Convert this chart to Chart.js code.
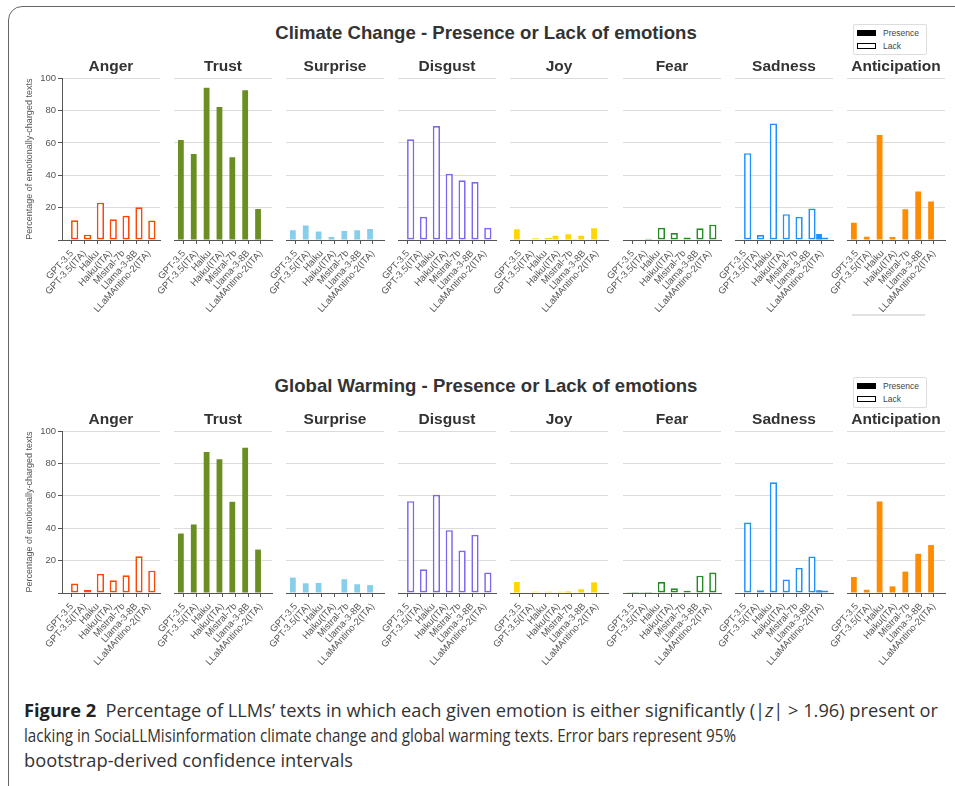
<!DOCTYPE html>
<html>
<head>
<meta charset="utf-8">
<script src="https://cdn.jsdelivr.net/npm/chart.js@4.4.0/dist/chart.umd.min.js"></script>
<style>
  body { margin: 0; width: 955px; height: 786px; overflow: hidden; position: relative; background: #fff; font-family: "Liberation Sans", Arial, sans-serif; }
  .frame { position: absolute; left: 8px; top: 6px; width: 1000px; height: 795px; border: 1px solid #666; border-radius: 14px; }
  canvas { position: absolute; }
  .main-title { position: absolute; left: 0; width: 972px; text-align: center; font-weight: bold; font-size: 18.6px; color: #333; line-height: 20px; }
  .legend { position: absolute; left: 853px; width: 72px; height: 29px; border: 1px solid #ddd; border-radius: 2px; background: #fff; font-size: 8.5px; color: #444; }
  .legend .sw { position: absolute; left: 3px; width: 19px; height: 6px; box-sizing: border-box; }
  .legend .lb { position: absolute; left: 29px; line-height: 10px; }
  .cap { position: absolute; left: 24px; font-family: "Open Sans", "Noto Sans", sans-serif; font-size: 18px; color: #333; white-space: nowrap; transform-origin: 0 50%; line-height: 24px; }
  .cap b { color: #222; }
</style>
</head>
<body>
<div class="frame"></div>

<div class="main-title" style="top:23px">Climate Change - Presence or Lack of emotions</div>
<div class="main-title" style="top:376px">Global Warming - Presence or Lack of emotions</div>

<div class="legend" style="top:24px">
  <div class="sw" style="top:5px;background:#000"></div><div class="lb" style="top:3px">Presence</div>
  <div class="sw" style="top:18px;border:1px solid #000"></div><div class="lb" style="top:16px">Lack</div>
</div>
<div class="legend" style="top:377px">
  <div class="sw" style="top:5px;background:#000"></div><div class="lb" style="top:3px">Presence</div>
  <div class="sw" style="top:18px;border:1px solid #000"></div><div class="lb" style="top:16px">Lack</div>
</div>
<div style="position:absolute;left:852px;top:314px;width:73px;height:2px;background:#e2e2e2"></div>

<div class="cap" data-w="914" style="top:698px"><b>Figure 2</b>&nbsp; Percentage of LLMs’ texts in which each given emotion is either significantly (|<i>z</i>| &gt; 1.96) present or</div>
<div class="cap" data-w="712" style="top:723px">lacking in SociaLLMisinformation climate change and global warming texts. Error bars represent 95%</div>
<div class="cap" data-w="329" style="top:748px">bootstrap-derived confidence intervals</div>

<script>
const models = ["GPT-3.5", "GPT-3.5(ITA)", "Haiku", "Haiku(ITA)", "Mistral-7b", "Llama-3-8B", "LLaMAntino-2(ITA)"];
const emotions = ["Anger", "Trust", "Surprise", "Disgust", "Joy", "Fear", "Sadness", "Anticipation"];
const yTicks = [0, 20, 40, 60, 80, 100];

// Climate change: one row per emotion, one value per model (percent)
const climatePresence = [
  [0, 0, 0, 0, 0, 0, 0],
  [61.9, 53.2, 94.2, 82.3, 51.1, 92.6, 19.2],
  [6.0, 8.9, 5.2, 1.9, 5.6, 6.0, 6.8],
  [0, 0, 0, 0, 0, 0, 0],
  [6.6, 0, 0, 2.6, 3.5, 2.7, 7.3],
  [0, 0, 0, 0, 0, 0, 0],
  [0, 0, 0, 0, 0, 0, 3.7],
  [10.7, 2.0, 65.0, 1.8, 19.0, 30.0, 23.8]
];
const climateLack = [
  [12.2, 3.3, 23.1, 12.8, 15.0, 20.2, 12.0],
  [0, 0, 0, 0, 0, 0, 0.4],
  [0, 0, 0, 0, 0, 0.4, 0],
  [62.3, 14.4, 70.5, 41.0, 36.9, 35.9, 7.6],
  [0.4, 1.1, 1.4, 0, 0.8, 0, 0.4],
  [0.3, 0.8, 7.6, 4.3, 1.6, 7.2, 9.5],
  [53.7, 3.1, 72.1, 16.0, 14.3, 19.5, 1.6],
  [0, 0, 0, 0, 0, 0, 0.3]
];

// Global warming
const warmingPresence = [
  [0, 0, 0, 0, 0, 0, 0],
  [36.7, 42.3, 87.0, 82.5, 56.3, 89.7, 26.8],
  [9.5, 6.0, 6.2, 0, 8.5, 5.4, 4.9],
  [0, 0, 0, 0, 0, 0, 0],
  [6.8, 0, 0, 0, 1.0, 2.3, 6.6],
  [0.4, 0.4, 0, 0, 0, 0, 0],
  [0, 0, 0, 0, 0, 0, 1.7],
  [9.9, 2.0, 56.5, 4.1, 13.2, 24.2, 29.6]
];
const warmingLack = [
  [5.8, 2.0, 11.8, 7.8, 10.9, 22.7, 13.8],
  [0, 0, 0, 0, 0, 0, 0.3],
  [0, 0, 0, 0, 0, 0, 0.3],
  [56.7, 14.6, 60.6, 38.8, 26.2, 35.9, 12.6],
  [0.5, 1.0, 1.0, 1.0, 0, 0, 0.4],
  [0.6, 0.6, 6.8, 2.9, 1.4, 10.7, 12.6],
  [43.5, 1.7, 68.3, 8.3, 15.5, 22.6, 1.5],
  [0, 0, 0, 0, 0, 0, 0.3]
];

const palette = ["#ff4500", "#6b8e23", "#87ceeb", "#7b68ee", "#ffd700", "#228b22", "#1e90ff", "#ff8c00"];

// layout
const PLOT_LEFT0 = 62, PLOT_STEP = 112.1, PLOT_W = 97.5, X_AXIS_H = 80, TITLE_LH = 18;
const rows = [
  { titleY: 66.7, plotTop: 78.3, plotBottom: 240, presence: climatePresence, lack: climateLack },
  { titleY: 420, plotTop: 431, plotBottom: 592.7, presence: warmingPresence, lack: warmingLack }
];

Chart.defaults.font.family = '"Liberation Sans", Arial, sans-serif';
Chart.defaults.color = "#555";

function makePanel(row, col) {
  const first = col === 0;
  const axisW = first ? 44 : 40;
  const plotLeft = Math.round(PLOT_LEFT0 + col * PLOT_STEP);
  const top = Math.round(row.titleY - TITLE_LH / 2);
  const width = axisW + Math.round(PLOT_W) + 6;
  const height = Math.round(row.plotBottom) + X_AXIS_H - top;
  const titleGap = row.plotTop - top - TITLE_LH;

  const canvas = document.createElement("canvas");
  canvas.width = width;
  canvas.height = height;
  canvas.style.left = (plotLeft - axisW) + "px";
  canvas.style.top = top + "px";
  document.body.appendChild(canvas);

  const color = palette[col];
  new Chart(canvas, {
    type: "bar",
    data: {
      labels: models.map((m, i) => i),
      datasets: [
        {
          label: "Presence",
          data: row.presence[col],
          backgroundColor: color,
          borderWidth: 0,
          categoryPercentage: 0.9,
          barPercentage: 1.0
        },
        {
          label: "Lack",
          data: row.lack[col],
          backgroundColor: "#fff",
          borderColor: color,
          borderWidth: 1.7,
          borderSkipped: false,
          categoryPercentage: 0.9,
          barPercentage: 1.25
        }
      ]
    },
    options: {
      responsive: false,
      animation: false,
      layout: { padding: { right: 6, left: 0, top: 0, bottom: 0 } },
      plugins: {
        legend: { display: false },
        tooltip: { enabled: false },
        title: {
          display: true,
          fullSize: false,
          text: emotions[col],
          color: "#333",
          font: { size: 15.5, weight: "bold", lineHeight: TITLE_LH / 15.5 },
          padding: { top: 0, bottom: titleGap }
        }
      },
      scales: {
        x: {
          type: "linear",
          offset: false,
          min: -0.76,
          max: 6.86,
          afterBuildTicks: (s) => { s.ticks = models.map((m, i) => ({ value: i })); },
          afterFit: (s) => { s.height = X_AXIS_H; },
          border: { display: true, color: "#555", width: 1 },
          grid: { drawOnChartArea: false, drawTicks: true, tickLength: 4, tickColor: "#555", offset: false },
          ticks: {
            autoSkip: false,
            minRotation: 48,
            maxRotation: 48,
            padding: 4,
            font: { size: 9.5 },
            color: "#555",
            callback: (v) => models[v]
          }
        },
        y: {
          min: 0,
          max: 100,
          afterBuildTicks: (s) => { s.ticks = yTicks.map((v) => ({ value: v })); },
          afterFit: (s) => { s.width = axisW; },
          border: { display: first, color: "#555", width: 1 },
          grid: { color: "#dcdcdc", drawTicks: first, tickLength: 4, tickColor: "#555" },
          ticks: {
            display: first,
            padding: 2,
            font: { size: 9.5 },
            color: "#555",
            callback: (v) => (v === 0 ? "" : v)
          },
          title: {
            display: first,
            text: "Percentage of emotionally-charged texts",
            font: { size: 9 },
            color: "#555",
            padding: { top: 6.6, bottom: 0 }
          }
        }
      }
    }
  });
}

rows.forEach((row) => emotions.forEach((e, col) => makePanel(row, col)));

// squeeze each caption line to the width it has in the printed figure
document.querySelectorAll(".cap").forEach((el) => {
  const k = +el.dataset.w / el.getBoundingClientRect().width;
  el.style.transform = "scaleX(" + k + ")";
});
</script>
</body>
</html>
